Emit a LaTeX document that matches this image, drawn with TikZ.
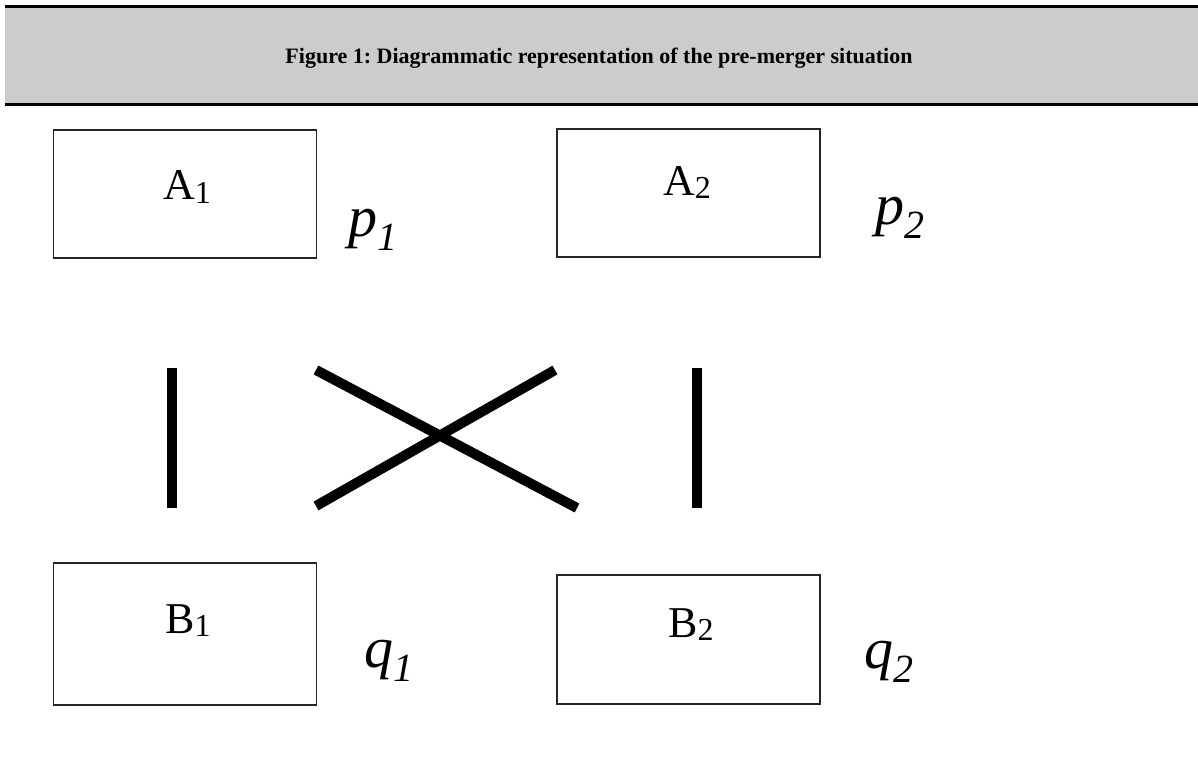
\documentclass[tikz,border=0pt]{standalone}
\usepackage{fontspec}
\setmainfont{Liberation Serif}
\usepackage{tikz}
\usetikzlibrary{positioning}
\frenchspacing

% box label: letter with a lowered index
\newcommand{\firmlbl}[2]{{\fontsize{44}{44}\selectfont #1\raisebox{-3pt}{\fontsize{32}{32}\selectfont #2}}}
% price label: italic letter with a lowered italic index
\newcommand{\pricelbl}[2]{{\itshape\fontsize{58}{58}\selectfont #1\raisebox{-14pt}{\fontsize{40}{40}\selectfont #2}}}

\begin{document}
\begin{tikzpicture}[
  x=1pt, y=-1pt,
  firm/.style={rectangle, draw=black!85, line width=1.2pt,
               minimum width=263pt, inner sep=0pt},
  firmtxt/.style={anchor=base, inner sep=0pt},
  pricetxt/.style={anchor=base west, inner sep=0pt},
  tie/.style={line width=10pt, line cap=butt}
]
\useasboundingbox (0,0) rectangle (1198,770);

% header band
\fill[black!20] (5,7) rectangle (1198,105);
\draw[line width=3pt] (5,6.5) -- (1198,6.5);
\draw[line width=3pt] (5,105) -- (1198,105);
\node[anchor=base, inner sep=0pt, font=\bfseries\fontsize{22}{22}\selectfont]
  (title) at (599,64) {Figure 1: Diagrammatic representation of the pre-merger situation};

% firms
\node[firm, minimum height=128pt] (A1) at (185,194) {};
\node[firm, minimum height=128pt] (A2) at (688.5,193) {};
\node[firm, minimum height=142pt] (B1) at (185,634) {};
\node[firm, minimum height=129pt] (B2) at (688.5,639.5) {};

\node[firmtxt] (A1txt) at (187,200) {\firmlbl{A}{1}};
\node[firmtxt] (A2txt) at (687,195) {\firmlbl{A}{2}};
\node[firmtxt] (B1txt) at (188,633) {\firmlbl{B}{1}};
\node[firmtxt] (B2txt) at (691,637) {\firmlbl{B}{2}};

% prices
\node[pricetxt] (p1) at (348,236) {\pricelbl{p}{1}};
\node[pricetxt] (p2) at (875,224) {\pricelbl{p}{2}};
\node[pricetxt] (q1) at (364,667) {\pricelbl{q}{1}};
\node[pricetxt] (q2) at (864,668) {\pricelbl{q}{2}};

% links
\coordinate (a1) at (172,368);
\coordinate (b1) at (172,508);
\coordinate (a2) at (697,368);
\coordinate (b2) at (697,508);
\coordinate (xa1) at (316,370);
\coordinate (xb2) at (577,508);
\coordinate (xb1) at (316,506);
\coordinate (xa2) at (555,370);

\draw[tie] (a1) -- (b1);
\draw[tie] (a2) -- (b2);
\draw[tie] (xa1) -- (xb2);
\draw[tie] (xb1) -- (xa2);
\end{tikzpicture}
\end{document}
